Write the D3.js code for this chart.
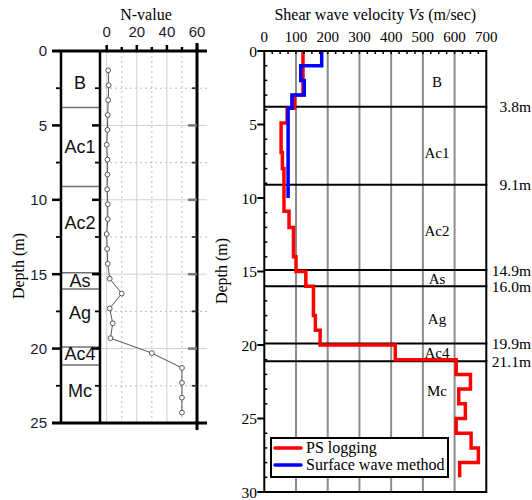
<!DOCTYPE html>
<html><head><meta charset="utf-8">
<script src="https://cdn.jsdelivr.net/npm/d3@7"></script>
<style>body{margin:0;background:#fff}</style>
</head><body><svg id="c" width="532" height="500"></svg>
<script>
// ---- data ----
const nDepths = [1.3,2.3,3.3,4.3,5.3,6.3,7.3,8.3,9.3,10.3,11.3,12.3,13.3,14.3,15.3,16.3,17.3,18.3,19.3,20.3,21.3,22.3,23.3,24.3];
const nValues = [1,1.3,1,0.7,0.5,0,0.5,0.5,0.3,0.7,0.7,0,0.3,0.7,2,10,2,4,2.5,30,50,50,50,50];
const layerBounds = [3.8,9.1,14.9,16.0,19.9,21.1];
const layerBoundLabels = ["3.8m","9.1m","14.9m","16.0m","19.9m","21.1m"];
const layerNames = ["B","Ac1","Ac2","As","Ag","Ac4","Mc"];
const layerLabelDepthL = [2.1,6.4,11.5,15.45,17.6,20.3,22.8];
const layerLabelDepthR = [2.1,6.9,12.2,15.5,18.2,20.5,23.1];
const psTop = [0,3.0,3.9,4.9,6.9,8.0,10.9,12.0,14.0,15.0,16.0,18.0,19.0,20.0,21.0,22.0,23.0,24.0,25.0,26.0,27.0,28.0];
const psBottomEnd = 29.0;
const psVs = [122,95,72,53,57,62,78,92,100,131,155,161,176,413,605,650,613,634,605,652,675,616];
const swTop = [0,1.0,2.0,3.0,3.9];
const swBottomEnd = 10.0;
const swVs = [181,115,126,87,75];
const nTicks = [0,20,40,60];
const vsTicks = [0,100,200,300,400,500,600,700];
const depthTicksL = [0,5,10,15,20,25];
const depthTicksR = [0,5,10,15,20,25,30];
const legendNames = ["PS logging","Surface wave method"];
const legendColors = ["#ff0000","#0000ff"];

const svg = d3.select("#c");
const SANS = "'Liberation Sans', Arial, sans-serif";
const SERIF = "'Liberation Serif', 'Times New Roman', serif";

// ---------- LEFT PANEL ----------
const yL = d3.scaleLinear().domain([0,25]).range([51,423]);
const xN = d3.scaleLinear().domain([0,60]).range([106.7,197]);
const gL = svg.append("g");

// grid
d3.range(2.5,25,2.5).forEach(d=>{
  const major = d%5===0;
  gL.append("line").attr("x1",100).attr("x2",207).attr("y1",yL(d)).attr("y2",yL(d))
    .attr("stroke",major?"#cfcfcf":"#bdbdbd").attr("stroke-width",1)
    .attr("stroke-dasharray",major?null:"2,3");
});
d3.range(0,60,10).forEach(v=>{
  const major = v%20===0;
  gL.append("line").attr("x1",xN(v)).attr("x2",xN(v)).attr("y1",51).attr("y2",423)
    .attr("stroke",major?"#cfcfcf":"#bdbdbd").attr("stroke-width",1)
    .attr("stroke-dasharray",major?null:"2,3");
});

// layer boundaries in column
layerBounds.forEach(d=>{
  gL.append("line").attr("x1",61).attr("x2",100).attr("y1",yL(d)).attr("y2",yL(d))
    .attr("stroke","#707070").attr("stroke-width",1.5);
});
layerNames.forEach((n,i)=>{
  gL.append("text").attr("x",80).attr("y",yL(layerLabelDepthL[i])).attr("dy","0.36em")
    .attr("text-anchor","middle").attr("font-family",SANS).attr("font-size",18).attr("fill","#111").text(n);
});

// frame lines
gL.append("line").attr("x1",61).attr("x2",61).attr("y1",51).attr("y2",423).attr("stroke","#000").attr("stroke-width",2.5);
gL.append("line").attr("x1",100).attr("x2",100).attr("y1",51).attr("y2",423).attr("stroke","#000").attr("stroke-width",2.5);
gL.append("line").attr("x1",xN(60)).attr("x2",xN(60)).attr("y1",43).attr("y2",430).attr("stroke","#000").attr("stroke-width",3);
gL.append("line").attr("x1",52).attr("x2",207).attr("y1",51).attr("y2",51).attr("stroke","#000").attr("stroke-width",3);
gL.append("line").attr("x1",52).attr("x2",207).attr("y1",423).attr("y2",423).attr("stroke","#000").attr("stroke-width",3);

// depth ticks on three verticals
d3.range(2.5,25,2.5).forEach(d=>{
  const major = d%5===0;
  gL.append("line").attr("x1",major?52:56).attr("x2",61).attr("y1",yL(d)).attr("y2",yL(d)).attr("stroke","#000").attr("stroke-width",major?2.5:1.8);
  gL.append("line").attr("x1",major?92:95).attr("x2",100).attr("y1",yL(d)).attr("y2",yL(d)).attr("stroke","#000").attr("stroke-width",major?2.5:1.8);
  gL.append("line").attr("x1",major?188:192).attr("x2",197).attr("y1",yL(d)).attr("y2",yL(d)).attr("stroke",major?"#777":"#333").attr("stroke-width",major?2.5:1.8);
});
// top N ticks
d3.range(0,61,10).forEach(v=>{
  const major = v%20===0;
  gL.append("line").attr("x1",xN(v)).attr("x2",xN(v)).attr("y1",51).attr("y2",major?45:47).attr("stroke","#000").attr("stroke-width",2.5);
});

// labels
depthTicksL.forEach(d=>{
  gL.append("text").attr("x",47).attr("y",yL(d)).attr("dy","0.36em").attr("text-anchor","end")
    .attr("font-family",SANS).attr("font-size",15).attr("fill","#1a1a33").text(d);
});
nTicks.forEach(v=>{
  gL.append("text").attr("x",xN(v)).attr("y",37).attr("text-anchor","middle")
    .attr("font-family",SANS).attr("font-size",15).attr("fill","#1a1a33").text(v);
});
gL.append("text").attr("x",146).attr("y",20).attr("text-anchor","middle")
  .attr("font-family",SERIF).attr("font-size",16).text("N-value");
gL.append("text").attr("transform","translate(24,266) rotate(-90)").attr("text-anchor","middle")
  .attr("font-family",SERIF).attr("font-size",16).text("Depth (m)");

// N-value series
const nData = nDepths.map((d,i)=>({d, v:nValues[i]}));
gL.append("path").datum(nData)
  .attr("d", d3.line().x(p=>xN(p.v)).y(p=>yL(p.d)))
  .attr("fill","none").attr("stroke","#555").attr("stroke-width",1);
gL.selectAll("circle").data(nData).join("circle")
  .attr("cx",p=>xN(p.v)).attr("cy",p=>yL(p.d)).attr("r",2.4)
  .attr("fill","#fff").attr("stroke","#555").attr("stroke-width",1);

// ---------- RIGHT PANEL ----------
const yR = d3.scaleLinear().domain([0,30]).range([51,492]);
const xV = d3.scaleLinear().domain([0,700]).range([264.3,486.3]);
const gR = svg.append("g");

// vertical grid
vsTicks.slice(1,-1).forEach(v=>{
  gR.append("line").attr("x1",xV(v)).attr("x2",xV(v)).attr("y1",51).attr("y2",492)
    .attr("stroke","#8c8c8c").attr("stroke-width",2);
});
// boundaries
layerBounds.forEach((d,i)=>{
  gR.append("line").attr("x1",xV(0)).attr("x2",xV(700)+1).attr("y1",yR(d)).attr("y2",yR(d))
    .attr("stroke","#000").attr("stroke-width",2);
  gR.append("text").attr("x",531).attr("y",yR(d)).attr("dy","0.36em").attr("text-anchor","end")
    .attr("font-family",SERIF).attr("font-size",15.5).text(layerBoundLabels[i]);
});
layerNames.forEach((n,i)=>{
  gR.append("text").attr("x",437).attr("y",yR(layerLabelDepthR[i])).attr("dy","0.36em")
    .attr("text-anchor","middle").attr("font-family",SERIF).attr("font-size",15).text(n);
});

// step series
function steps(tops, end, vals){
  const pts=[];
  tops.forEach((t,i)=>{
    const b = i<tops.length-1 ? tops[i+1] : end;
    pts.push({d:t,v:vals[i]}); pts.push({d:b,v:vals[i]});
  });
  return pts;
}
const lineR = d3.line().x(p=>xV(p.v)).y(p=>yR(p.d));
gR.append("path").datum(steps(psTop,psBottomEnd,psVs)).attr("d",lineR)
  .attr("fill","none").attr("stroke","#ff0000").attr("stroke-width",3.5).attr("stroke-linejoin","miter");
gR.append("path").datum(steps(swTop,swBottomEnd,swVs)).attr("d",lineR)
  .attr("fill","none").attr("stroke","#0000ff").attr("stroke-width",3.5).attr("stroke-linejoin","miter");

// frame
gR.append("rect").attr("x",xV(0)).attr("y",yR(0)).attr("width",xV(700)-xV(0)).attr("height",yR(30)-yR(0))
  .attr("fill","none").attr("stroke","#000").attr("stroke-width",2);
// depth ticks
d3.range(0,31,1).forEach(d=>{
  if(d%5===0){
    gR.append("line").attr("x1",xV(0)-7).attr("x2",xV(0)).attr("y1",yR(d)).attr("y2",yR(d)).attr("stroke","#000").attr("stroke-width",2);
  } else {
    gR.append("line").attr("x1",xV(0)).attr("x2",xV(0)+3).attr("y1",yR(d)).attr("y2",yR(d)).attr("stroke","#000").attr("stroke-width",1.5);
  }
});
d3.range(25,700,25).forEach(v=>{
  gR.append("line").attr("x1",xV(v)).attr("x2",xV(v)).attr("y1",yR(0)).attr("y2",yR(0)+3).attr("stroke","#000").attr("stroke-width",1.5);
});
depthTicksR.forEach(d=>{
  gR.append("text").attr("x",257).attr("y",yR(d)).attr("dy","0.36em").attr("text-anchor","end")
    .attr("font-family",SERIF).attr("font-size",15.5).text(d);
});
vsTicks.forEach(v=>{
  gR.append("text").attr("x",xV(v)).attr("y",42).attr("text-anchor","middle")
    .attr("font-family",SERIF).attr("font-size",15).text(v);
});
const title = gR.append("text").attr("x",xV(350)).attr("y",20).attr("text-anchor","middle")
  .attr("font-family",SERIF).attr("font-size",16);
title.append("tspan").text("Shear wave velocity ");
title.append("tspan").attr("font-style","italic").text("Vs");
title.append("tspan").text(" (m/sec)");
gR.append("text").attr("transform","translate(227,271) rotate(-90)").attr("text-anchor","middle")
  .attr("font-family",SERIF).attr("font-size",16).text("Depth (m)");

// legend
const lg = gR.append("g");
lg.append("rect").attr("x",271).attr("y",438).attr("width",177).attr("height",39)
  .attr("fill","#fff").attr("stroke","#000").attr("stroke-width",2);
legendNames.forEach((n,i)=>{
  const y = 448 + i*17;
  lg.append("line").attr("x1",275).attr("x2",301).attr("y1",y).attr("y2",y)
    .attr("stroke",legendColors[i]).attr("stroke-width",3.5).attr("stroke-linecap","round");
  lg.append("text").attr("x",306).attr("y",y).attr("dy","0.33em")
    .attr("font-family",SERIF).attr("font-size",16).text(n);
});
</script></body></html>
